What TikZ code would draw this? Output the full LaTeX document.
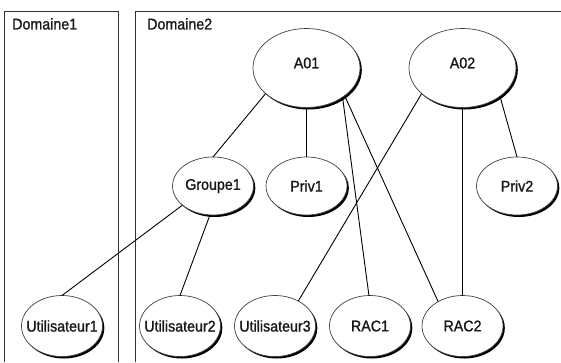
\documentclass[tikz,border=0pt]{standalone}
\usepackage{fontspec}
\setmainfont{Liberation Sans}[FakeStretch=0.92,FakeBold=1.2]
\usetikzlibrary{shapes.geometric,shadows}
\begin{document}
\begin{tikzpicture}[x=1pt,y=-1pt,
  lbl/.style={font=\fontsize{15.5}{17}\selectfont, text=black!90},
  ell/.style={ellipse, draw=black!75, line width=0.7pt, fill=white, inner sep=0pt, outer sep=0pt, lbl,
     drop shadow={shadow xshift=1.8pt, shadow yshift=-2pt, fill=black, opacity=1}},
  big/.style={ell, minimum width=107pt, minimum height=79pt},
  mid/.style={ell, minimum width=81pt, minimum height=58pt},
  low/.style={ell, minimum width=81pt, minimum height=61pt},
  box/.style={draw=black!80, line width=1pt},
  link/.style={draw=black, line width=0.9pt}]
\useasboundingbox (0,0) rectangle (561,362);
% domain frames
\draw[box] (4,362) -- (4,11) -- (118,11) -- (118,362);
\draw[box] (135,362) -- (135,11) -- (561,11);
\node[lbl, anchor=north west, inner sep=0pt] (d1) at (12,18) {Domaine1};
\node[lbl, anchor=north west, inner sep=0pt] (d2) at (147,18) {Domaine2};
% nodes
\node[big, label={[lbl,yshift=5pt]center:A01}] (A01) at (306.5,68) {};
\node[big, label={[lbl,yshift=5pt]center:A02}] (A02) at (462.5,68) {};
\node[mid] (G1) at (213,186) {\makebox[0pt]{Groupe1}};
\node[mid] (P1) at (306.5,186) {\makebox[0pt]{Priv1}};
\node[mid] (P2) at (517,186) {\makebox[0pt]{Priv2}};
\node[low] (U1) at (62,326) {\makebox[0pt]{Utilisateur1}};
\node[low] (U2) at (180,326) {\makebox[0pt]{Utilisateur2}};
\node[low] (U3) at (275,326) {\makebox[0pt]{Utilisateur3}};
\node[low] (R1) at (370,326) {\makebox[0pt]{RAC1}};
\node[low] (R2) at (462.5,326) {\makebox[0pt]{RAC2}};
% links
\draw[link] (A01.212) -- (G1.90);
\draw[link] (A01.270) -- (P1.90);
\draw[link] (A01.-39) -- (R1.92);
\draw[link] (A01.-36) -- (R2.135);
\draw[link] (A02.212) -- (U3.47);
\draw[link] (A02.270) -- (R2.90);
\draw[link] (A02.-37) -- (P2.90);
\draw[link] (G1.212) -- (U1.90);
\draw[link] (G1.-96) -- (U2.90);
\end{tikzpicture}
\end{document}
